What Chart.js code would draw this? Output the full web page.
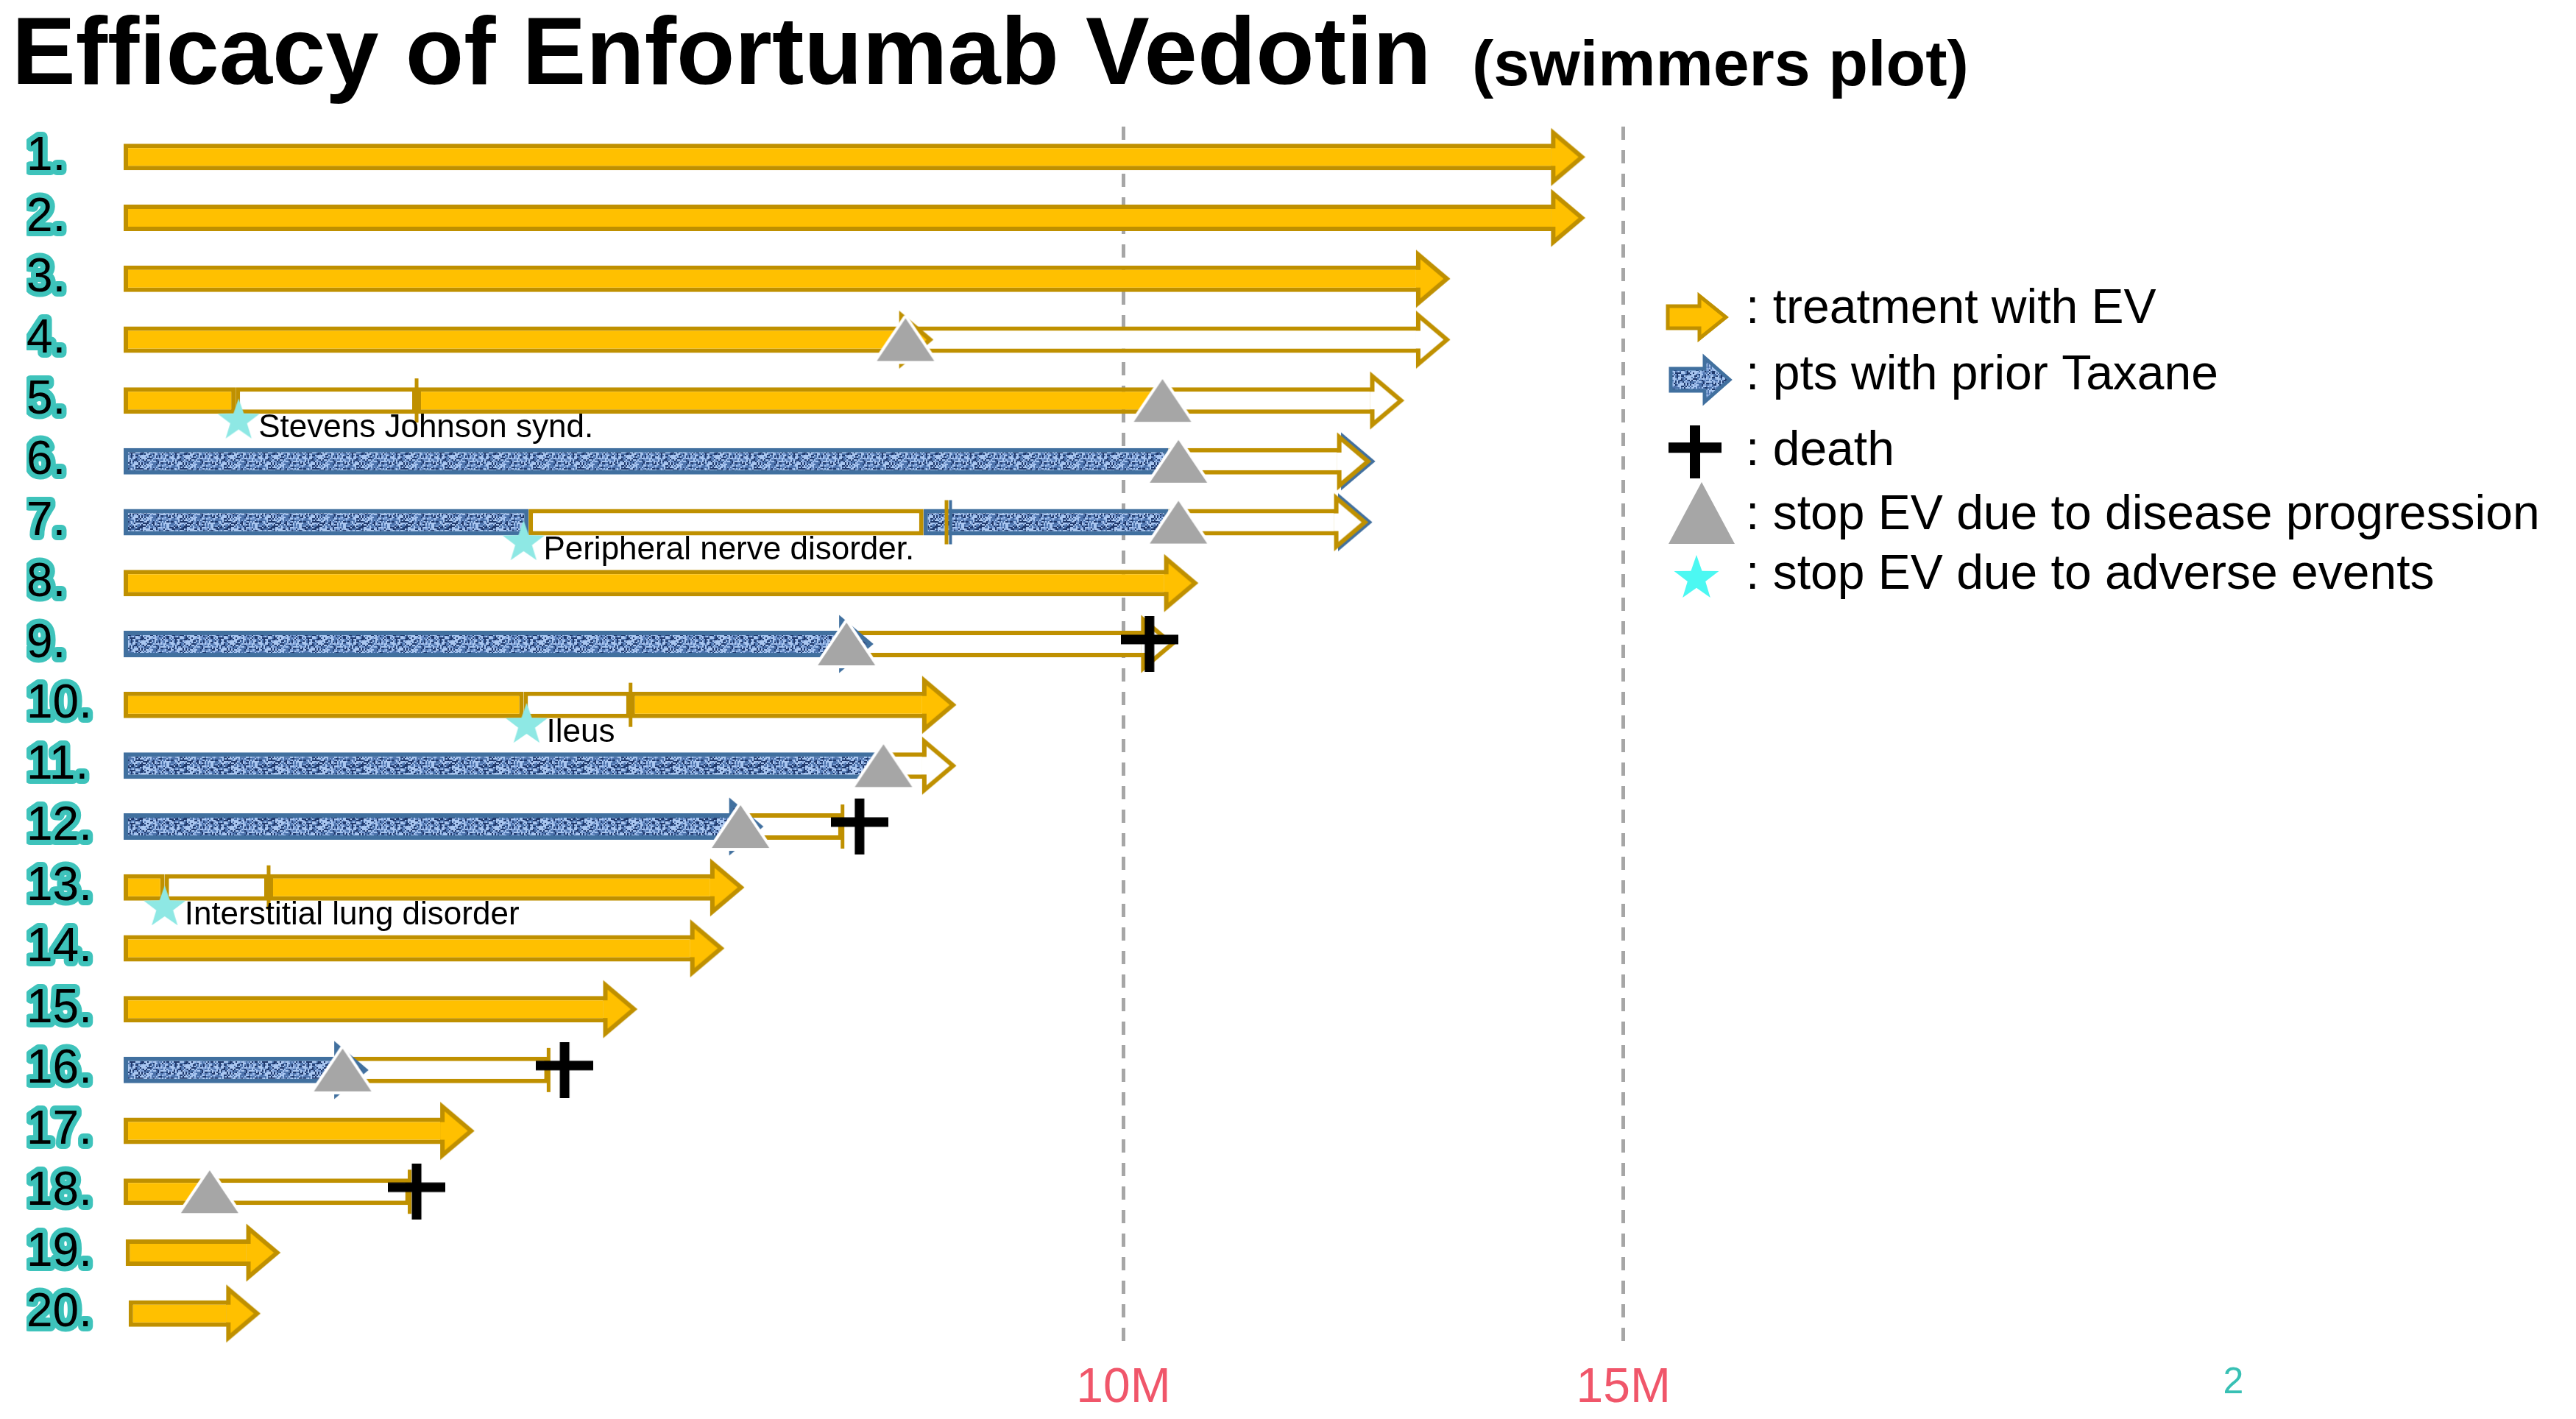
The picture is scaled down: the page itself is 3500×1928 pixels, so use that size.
<!DOCTYPE html>
<html>
<head>
<meta charset="utf-8">
<title>Efficacy of Enfortumab Vedotin</title>
<script src="https://cdn.jsdelivr.net/npm/chart.js@4.4.1/dist/chart.umd.min.js"></script>
<style>
  html, body { margin: 0; padding: 0; background: #fff; overflow: hidden; }
  #wrap { width: 3500px; height: 1928px; position: relative; }
</style>
</head>
<body>
<div id="wrap"><canvas id="swimmers"></canvas></div>
<script>
// ---- data (months) ----
const rowLabels = ['1.', '2.', '3.', '4.', '5.', '6.', '7.', '8.', '9.', '10.',
  '11.', '12.', '13.', '14.', '15.', '16.', '17.', '18.', '19.', '20.'];

// [row, start, end]
const evBars = [
  [0, 0, 14.32], [1, 0, 14.32], [2, 0, 12.97], [3, 0, 7.8],
  [4, 0, 1.12], [4, 2.93, 10.37], [7, 0, 10.45],
  [9, 0, 4.0], [9, 5.07, 8.03], [12, 0, 0.41], [12, 1.45, 5.91],
  [13, 0, 5.71], [14, 0, 4.84], [16, 0, 3.21], [17, 0, 0.82],
  [18, 0.02, 1.27], [19, 0.05, 1.07]
];
const taxaneBars = [
  [5, 0, 10.45], [6, 0, 4.05], [6, 8.0, 10.45], [8, 0, 7.2],
  [10, 0, 7.55], [11, 0, 6.1], [15, 0, 2.15]
];
const offBars = [
  [3, 7.8, 12.97], [4, 1.12, 2.93], [4, 10.37, 12.51],
  [5, 10.45, 12.18], [6, 4.05, 8.0], [6, 10.45, 12.15],
  [8, 7.2, 10.22], [9, 4.0, 5.07], [10, 7.55, 8.03],
  [11, 6.1, 7.19], [12, 0.41, 1.45], [15, 2.15, 4.25], [17, 0.82, 2.86]
];

// [row, month]
const evArrows = [[0, 14.32], [1, 14.32], [2, 12.97], [3, 7.8], [7, 10.45], [9, 8.03],
  [12, 5.91], [13, 5.71], [14, 4.84], [16, 3.21], [18, 1.27], [19, 1.07]];
const taxaneArrows = [[5, 12.22], [6, 12.19], [8, 7.2], [11, 6.1], [15, 2.15]];
const offArrows = [[3, 12.97], [4, 12.51], [5, 12.18], [6, 12.15], [8, 10.22], [10, 8.03]];
const stopMarks = [[4, 2.93], [6, 8.23], [9, 5.07], [11, 7.19], [12, 1.45], [15, 4.25], [17, 2.86]];
const taxaneMarks = [[6, 8.27]];
const progression = [[3, 7.82], [4, 10.39], [5, 10.55], [6, 10.55], [8, 7.23],
  [10, 7.6], [11, 6.17], [15, 2.19], [17, 0.86]];
const deaths = [[8, 10.26], [11, 7.36], [15, 4.41], [17, 2.93]];
const adverse = [[4, 1.15], [6, 4.0], [9, 4.03], [12, 0.41]];
const adverseNames = ['Stevens Johnson synd.', 'Peripheral nerve disorder.', 'Ileus', 'Interstitial lung disorder'];

const xTickValues = [10, 15, 21.1];
const xTickLabels = ['10M', '15M', '2'];

const legendTexts = [': treatment with EV', ': pts with prior Taxane', ': death',
  ': stop EV due to disease progression', ': stop EV due to adverse events'];

// ---- style ----
const GOLD = '#ffc000';
const GOLD_EDGE = '#bf9000';
const BLUE_EDGE = '#41709f';
const GREY = '#a6a6a6';
const FONT = '"Liberation Sans", Arial, Helvetica, sans-serif';
const BW = 6, SHAFT = 36, HEAD_L = 36, HEAD_H = 66;
const STAR_DROP = 0.33, NAME_DROP = 0.46;

function makeCanvas(w, h) {
  const c = document.createElement('canvas');
  c.width = w; c.height = h;
  return c;
}

function denim() {
  const c = makeCanvas(60, 36);
  const g = c.getContext('2d');
  g.fillStyle = '#4d73ac';
  g.fillRect(0, 0, 60, 36);
  let s = 12345;
  const next = () => (s = (s * 16807) % 2147483647) / 2147483647;
  for (let y = 0; y < 36; y += 2) {
    for (let x = 0; x < 60; x += 2) {
      const v = next();
      if (v < 0.32) g.fillStyle = '#a9c6f0';
      else if (v < 0.5) g.fillStyle = '#20396c';
      else if (v < 0.64) g.fillStyle = '#7d9fd6';
      else continue;
      g.fillRect(x, y, next() < 0.3 ? 4 : 2, 2);
    }
  }
  return c;
}
const denimTile = denim();
const bluePattern = denimTile.getContext('2d').createPattern(denimTile, 'repeat');

// arrow head, drawn to the right of the point
function makeHead(fill, edge) {
  const w = 2 * (HEAD_L + BW + 4), h = HEAD_H + 2 * BW + 4;
  const c = makeCanvas(w, h);
  const g = c.getContext('2d');
  const cx = w / 2, cy = h / 2, xb = cx - BW;
  g.beginPath();
  g.moveTo(xb, cy - HEAD_H / 2);
  g.lineTo(cx + HEAD_L, cy);
  g.lineTo(xb, cy + HEAD_H / 2);
  g.closePath();
  g.fillStyle = fill === 'denim' ? g.createPattern(denimTile, 'repeat') : fill;
  g.fill();
  g.beginPath();
  g.moveTo(xb + BW / 2, cy - SHAFT / 2 + BW);
  g.lineTo(xb + BW / 2, cy - HEAD_H / 2);
  g.lineTo(cx + HEAD_L, cy);
  g.lineTo(xb + BW / 2, cy + HEAD_H / 2);
  g.lineTo(xb + BW / 2, cy + SHAFT / 2 - BW);
  g.strokeStyle = edge;
  g.lineWidth = BW;
  g.stroke();
  return c;
}

function makeTriangle(w, h, edge) {
  const pad = edge + 2;
  const c = makeCanvas(w + 2 * pad, h + 2 * pad);
  const g = c.getContext('2d');
  g.beginPath();
  g.moveTo(pad + w / 2, pad);
  g.lineTo(pad + w, pad + h);
  g.lineTo(pad, pad + h);
  g.closePath();
  if (edge) {
    g.strokeStyle = '#fff';
    g.lineWidth = edge * 2;
    g.lineJoin = 'round';
    g.stroke();
  }
  g.fillStyle = GREY;
  g.fill();
  return c;
}

function makeCross(w, h, t, barAt) {
  const c = makeCanvas(w, h);
  const g = c.getContext('2d');
  g.fillStyle = '#000';
  g.fillRect((w - t) / 2, 0, t, h);
  g.fillRect(0, h * barAt - t / 2, w, t);
  return c;
}

function makeStar(r, color) {
  const c = makeCanvas(2 * r + 4, 2 * r + 4);
  const g = c.getContext('2d');
  const cx = r + 2, cy = r + 2;
  g.beginPath();
  for (let i = 0; i < 10; i++) {
    const rad = i % 2 ? r * 0.4 : r;
    const a = -Math.PI / 2 + i * Math.PI / 5;
    g.lineTo(cx + rad * Math.cos(a), cy + rad * Math.sin(a));
  }
  g.closePath();
  g.fillStyle = color;
  g.fill();
  return c;
}

const headGold = makeHead(GOLD, GOLD_EDGE);
const headOff = makeHead('#fff', GOLD_EDGE);
const headBlue = makeHead('denim', BLUE_EDGE);
const triImg = makeTriangle(78, 58, 4);
const crossImg = makeCross(78, 76, 13, 0.42);
const starImg = makeStar(30, '#8ee8e4');

const toBars = list => list.map(([r, a, b]) => ({ y: r, x: [a, b] }));
const toPts = (list, dy = 0) => list.map(([r, m]) => ({ x: m, y: r + dy }));

function barSet(list, fill, edge, order) {
  return {
    type: 'bar', data: toBars(list), backgroundColor: fill, borderColor: edge,
    borderWidth: BW, borderSkipped: false, grouped: false, maxBarThickness: SHAFT, order
  };
}
function pointSet(list, style, order, extra) {
  return Object.assign({
    type: 'scatter', indexAxis: 'x', data: toPts(list), pointStyle: style,
    pointRadius: 10, order
  }, extra || {});
}

function blockArrow(g, x0, x1, cy, sh, hl, hh, fill, edge, bw) {
  const xb = x1 - hl;
  g.beginPath();
  g.moveTo(x0, cy - sh / 2);
  g.lineTo(xb, cy - sh / 2);
  g.lineTo(xb, cy - hh / 2);
  g.lineTo(x1, cy);
  g.lineTo(xb, cy + hh / 2);
  g.lineTo(xb, cy + sh / 2);
  g.lineTo(x0, cy + sh / 2);
  g.closePath();
  g.fillStyle = fill;
  g.fill();
  g.lineWidth = bw;
  g.strokeStyle = edge;
  g.stroke();
}

const decor = {
  id: 'decor',
  beforeDraw(chart) {
    // rounded joins for the outlined row labels
    chart.ctx.lineJoin = 'round';
  },
  afterDatasetsDraw(chart) {
    const ctx = chart.ctx, xs = chart.scales.x, ys = chart.scales.y;
    ctx.save();
    ctx.font = '44px ' + FONT;
    ctx.fillStyle = '#000';
    ctx.textBaseline = 'middle';
    adverse.forEach(([r, m], i) => {
      ctx.fillText(adverseNames[i], xs.getPixelForValue(m) + 27, ys.getPixelForValue(r + NAME_DROP));
    });
    ctx.restore();
  },
  afterDraw(chart) {
    const ctx = chart.ctx;
    ctx.save();
    ctx.lineJoin = 'miter';
    ctx.fillStyle = '#000';
    ctx.textBaseline = 'alphabetic';
    ctx.font = 'bold 130px ' + FONT;
    ctx.fillText('Efficacy of Enfortumab Vedotin', 16, 114);
    ctx.font = 'bold 88px ' + FONT;
    ctx.fillText('(swimmers plot)', 2000, 116);

    // legend
    blockArrow(ctx, 2266, 2345, 431, 30, 36, 58, GOLD, GOLD_EDGE, 5);
    blockArrow(ctx, 2270, 2350, 516, 30, 34, 60, bluePattern, BLUE_EDGE, 5);
    ctx.drawImage(makeCross(72, 72, 14, 0.42), 2267, 578);
    ctx.drawImage(makeTriangle(90, 84, 0), 2265, 653);
    const ls = makeStar(32, '#4cf8f2');
    ctx.drawImage(ls, 2305 - ls.width / 2, 786 - ls.height / 2);
    ctx.fillStyle = '#000';
    ctx.font = '66px ' + FONT;
    ctx.textBaseline = 'middle';
    const ly = [421, 511, 614, 701, 782];
    legendTexts.forEach((t, i) => ctx.fillText(t, 2372, ly[i]));
    ctx.restore();
  }
};

new Chart(document.getElementById('swimmers'), {
  type: 'bar',
  data: {
    datasets: [
      barSet(evBars, GOLD, GOLD_EDGE, 20),
      barSet(taxaneBars, bluePattern, BLUE_EDGE, 20),
      barSet(offBars, '#fff', GOLD_EDGE, 21),
      pointSet(taxaneArrows, headBlue, 16),
      pointSet(evArrows, headGold, 15),
      pointSet(offArrows, headOff, 14),
      pointSet(stopMarks, 'line', 12, { rotation: 90, pointRadius: 30, borderColor: GOLD_EDGE, borderWidth: 5 }),
      pointSet(taxaneMarks, 'line', 12, { rotation: 90, pointRadius: 30, borderColor: BLUE_EDGE, borderWidth: 4 }),
      pointSet(progression, triImg, 10),
      pointSet(deaths, crossImg, 9),
      Object.assign(pointSet(adverse, starImg, 8), { data: toPts(adverse, STAR_DROP) })
    ]
  },
  options: {
    indexAxis: 'y',
    responsive: true,
    maintainAspectRatio: false,
    devicePixelRatio: 1,
    animation: false,
    events: [],
    layout: { padding: { left: 36, right: 30, top: 172, bottom: 0 } },
    plugins: { legend: { display: false }, tooltip: { enabled: false } },
    scales: {
      x: {
        type: 'linear',
        min: 0,
        max: 24.27,
        afterBuildTicks: ax => { ax.ticks = xTickValues.map(v => ({ value: v })); },
        afterFit: ax => { ax.height = 102; },
        grid: {
          color: c => (c.tick && c.tick.value > 20 ? 'rgba(0,0,0,0)' : GREY),
          lineWidth: 5,
          drawTicks: false
        },
        border: { display: false, dash: [18, 14] },
        ticks: {
          padding: 28,
          maxRotation: 0,
          autoSkip: false,
          callback: (v, i) => xTickLabels[i],
          color: c => (c.tick && c.tick.value > 20 ? '#38c0b4' : '#f0566a'),
          font: c => ({ family: FONT, size: c.tick && c.tick.value > 20 ? 50 : 66, lineHeight: 1 })
        }
      },
      y: {
        type: 'linear',
        min: -0.5,
        max: 19.5,
        reverse: true,
        offset: false,
        afterBuildTicks: ax => { ax.ticks = rowLabels.map((_, i) => ({ value: i })); },
        afterFit: ax => { ax.width = 132; },
        grid: { display: false, offset: false },
        border: { display: false },
        ticks: {
          crossAlign: 'far',
          padding: 0,
          autoSkip: false,
          callback: (v, i) => rowLabels[i],
          color: '#000',
          textStrokeColor: '#3ec3bb',
          textStrokeWidth: 14,
          font: { family: FONT, size: 64, weight: 'normal' }
        }
      }
    }
  },
  plugins: [decor]
});
</script>
</body>
</html>
